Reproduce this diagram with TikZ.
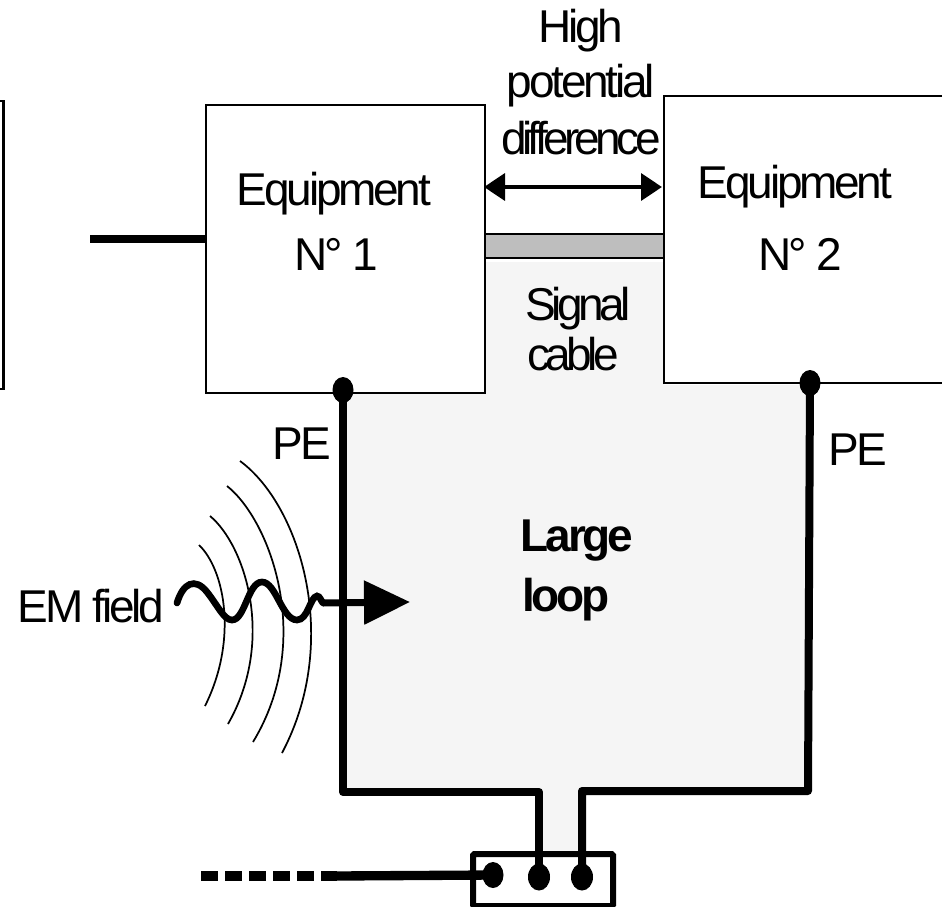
\documentclass[tikz,border=0pt]{standalone}
\usepackage{fontspec}
\setmainfont[LetterSpace=-7]{Liberation Sans}
\usetikzlibrary{arrows.meta,shapes.geometric}
\newlength{\du}
\setlength{\du}{0.75pt}
\definecolor{loopcolor}{rgb}{0.96,0.96,0.96}
\definecolor{cablecolor}{rgb}{0.745,0.745,0.745}
\tikzset{
  lbl/.style={font=\fontsize{34.5pt}{40pt}\selectfont,align=center,inner sep=0pt},
  tightlbl/.style={font=\fontsize{34.5pt}{40pt}\selectfont\addfontfeature{LetterSpace=-10},align=center,inner sep=0pt},
  boldlbl/.style={lbl,font=\fontsize{34.5pt}{40pt}\selectfont\bfseries},
  equipbox/.style={draw,line width=1.8pt,fill=white,inner sep=0pt},
  pewire/.style={line width=6pt,line join=round},
  dotnode/.style={ellipse,fill=black,inner sep=0pt,minimum width=21\du,minimum height=26\du},
  wavefront/.style={line width=1.3pt},
}
\begin{document}
\begin{tikzpicture}[x=\du,y=-\du]
\useasboundingbox (0,0) rectangle (947,907);
% loop area
\fill[loopcolor] (484,262)--(664,262)--(664,385)--(808,385)--(808,795)--(582,795)--(582,855)--(540,855)--(540,795)--(345,795)--(345,391)--(484,391)--cycle;
% cable
\node[draw,line width=1.8pt,fill=cablecolor,minimum width=180\du,minimum height=24\du,inner sep=0pt,anchor=north west] (cable) at (484,233) {};
% equipment
\node[equipbox,minimum width=279\du,minimum height=288\du,anchor=north west] (eqa) at (205,104) {};
\draw[line width=1.8pt] (0,101)--(3.5,101)--(3.5,389)--(0,389);
\fill[white] (664,96) rectangle (942,383);
\draw[line width=1.8pt] (942,96)--(664,96)--(664,383)--(942,383);
\node[lbl] at (334,194) {Equipment};
\node[lbl] at (336,254) {N° 1};
\node[lbl] at (795,187) {Equipment};
\node[lbl] at (800,254) {N° 2};
% potential difference
\node[lbl] at (581,31) {High};
\node[lbl] at (581,86) {potential};
\node[tightlbl] at (581,138) {difference};
\coordinate (diffa) at (484,187);
\coordinate (diffb) at (662,187);
\draw[line width=3.5pt,{Triangle[length=15.75pt,width=20pt]}-{Triangle[length=15.75pt,width=20pt]}] (diffa)--(diffb);
\node[tightlbl] at (578,309) {Signal};
\node[tightlbl] at (573,354) {cable};
% input line
\coordinate (inp) at (90,239);
\draw[line width=6pt] (inp)--(207,239);
% PE wires and terminal
\node[dotnode] (dota) at (343,390) {};
\node[dotnode] (dotb) at (810,383) {};
\node[draw,line width=4.5pt,fill=white,rounded corners=1pt,minimum width=140\du,minimum height=52\du,inner sep=0pt,anchor=north west] (term) at (470,851) {};
\node[dotnode] (tc) at (493,875) {};
\node[dotnode,minimum width=22\du,minimum height=27\du] (td) at (539,877) {};
\node[dotnode,minimum width=22\du,minimum height=27\du] (te) at (582,877) {};
\draw[pewire] (dota.center)--(343,792)--(539,792)--(td.center);
\draw[pewire] (dotb.center)--(808,791)--(582,791)--(te.center);
\coordinate (earth) at (337,876);
\draw[line width=7pt] (earth)--(tc.center);
\draw[line width=7pt,dash pattern=on 12.5pt off 5.5pt] (201,876)--(earth);
\node[lbl] at (302,444) {PE};
\node[lbl] at (858,450) {PE};
\node[boldlbl] at (577,541) {Large};
\node[boldlbl] at (566,600) {loop};
\node[lbl] (emf) at (91,606) {EM field};
% wave fronts
\draw[wavefront] (199,545) .. controls (225,570) and (238,640) .. (205,706);
\draw[wavefront] (210,516) .. controls (245,545) and (276,640) .. (228,724);
\draw[wavefront] (227,486) .. controls (270,520) and (315,640) .. (253,742);
\draw[wavefront] (240,461) .. controls (300,505) and (342,640) .. (282,753);
% wave
\draw[line width=5pt,line cap=round] (177,603) .. controls (183,583) and (195,577) .. (207,592) .. controls (218,606) and (224,620) .. (232,620)
  .. controls (245,620) and (248,582) .. (262,582) .. controls (276,582) and (282,620) .. (297,620) .. controls (308,620) and (310,597) .. (317,596) .. controls (320,596) and (321,601) .. (323,603);
\coordinate (fielda) at (323,603);
\coordinate (fieldb) at (410,602);
\draw[line width=5.25pt,-{Triangle[length=34.5pt,width=32pt]}] (fielda)--(fieldb);
\end{tikzpicture}
\end{document}
